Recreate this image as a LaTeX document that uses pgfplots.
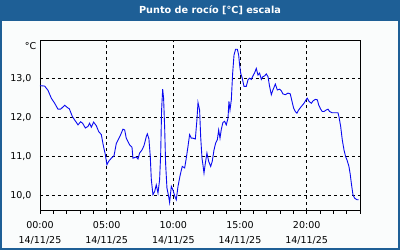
\documentclass[border=0pt]{standalone}
\usepackage{fontspec}
\setmainfont{DejaVu Sans}
\usepackage{pgfplots}
\pgfplotsset{compat=1.18}
\definecolor{barblue}{RGB}{30,95,150}
\definecolor{bgc}{RGB}{250,252,252}
\definecolor{lineblue}{RGB}{10,10,240}
\begin{document}
\begin{tikzpicture}[x=1bp,y=1bp]
\useasboundingbox (-40,-39.5) rectangle (360,210.5);
\fill[bgc] (-40,-39.5) rectangle (360,210.5);
\begin{axis}[
  at={(0,0)}, anchor=south west,
  scale only axis, width=320bp, height=170.5bp,
  xmin=0, xmax=24, ymin=9.625, ymax=13.975,
  xtick={0,5,10,15,20},
  minor xtick={1,2,3,4,6,7,8,9,11,12,13,14,16,17,18,19,21,22,23,24},
  xticklabels={{00:00\\14/11/25},{05:00\\14/11/25},{10:00\\14/11/25},{15:00\\14/11/25},{20:00\\14/11/25}},
  ytick={10,11,12,13},
  grid=major,
  major grid style={black, dash pattern=on 3bp off 3bp, line width=0.8bp},
  axis line style={black, line width=0.8bp},
  tick align=outside,
  xtick pos=left, ytick pos=left,
  xtick style={black, line width=0.8bp},
  ytick style={draw=none},
  major tick length=3bp, minor tick length=3bp,
  xticklabel style={font=\fontsize{9.5bp}{15bp}\selectfont, align=center, text=black, yshift=-4bp},
  yticklabel style={font=\fontsize{9.5bp}{11bp}\selectfont, text=black, xshift=-2bp,
    /pgf/number format/.cd, fixed, fixed zerofill, precision=1, use comma, assume math mode=true},
  clip=true,
]
\addplot[lineblue, line width=0.9bp] coordinates {
(0.0,12.81) (0.35,12.80) (0.6,12.69) (0.85,12.49) (1.1,12.36) (1.35,12.21) (1.55,12.21)
(1.85,12.31) (2.1,12.24) (2.2,12.22) (2.43,12.02) (2.65,11.91) (2.85,11.81) (3.05,11.89)
(3.2,11.85) (3.4,11.73) (3.6,11.77) (3.72,11.85) (3.85,11.75) (4.02,11.88) (4.22,11.79)
(4.4,11.64) (4.6,11.56) (4.75,11.28) (4.9,11.05) (5.02,10.79) (5.15,10.88) (5.35,10.96)
(5.55,11.02) (5.72,11.33) (5.98,11.51) (6.05,11.56) (6.22,11.70) (6.35,11.68) (6.47,11.47)
(6.72,11.30) (6.9,11.24) (6.97,10.96) (7.22,10.99) (7.35,10.94) (7.47,11.09) (7.65,11.17)
(7.8,11.28) (7.97,11.51) (8.05,11.58) (8.17,11.45) (8.27,11.00) (8.35,10.41) (8.47,10.03)
(8.6,10.11) (8.72,10.28) (8.85,10.07) (8.97,10.41) (9.05,11.05) (9.12,12.19) (9.2,12.72)
(9.27,12.49) (9.35,11.73) (9.42,10.83) (9.52,10.20) (9.65,9.98) (9.72,9.83) (9.85,10.24)
(9.97,10.15) (10.1,10.00) (10.22,9.90) (10.35,10.24) (10.52,10.54) (10.67,10.75) (10.85,10.71)
(10.97,10.96) (11.1,11.26) (11.22,11.56) (11.35,11.47) (11.47,11.47) (11.65,11.45) (11.77,11.94)
(11.85,12.38) (11.97,12.19) (12.05,11.51) (12.15,10.96) (12.22,10.79) (12.3,10.58) (12.4,10.83)
(12.52,11.09) (12.65,10.88) (12.8,10.75) (12.92,10.88) (13.05,11.17) (13.17,11.34) (13.3,11.43)
(13.4,11.68) (13.5,11.47) (13.6,11.70) (13.72,11.87) (13.85,11.90) (13.97,11.81) (14.1,11.98)
(14.17,12.41) (14.25,12.19) (14.35,12.45) (14.45,13.13) (14.55,13.59) (14.67,13.74) (14.8,13.74)
(14.9,13.59) (14.97,13.34) (15.05,13.13) (15.17,13.00) (15.3,12.79) (15.47,12.79) (15.6,12.96)
(15.72,13.00) (15.85,12.97) (15.97,13.06) (16.1,13.14) (16.22,13.25) (16.35,13.08) (16.47,13.13)
(16.6,12.97) (16.72,13.04) (16.85,13.06) (16.97,13.11) (17.1,13.04) (17.22,12.79) (17.35,12.58)
(17.47,12.70) (17.65,12.85) (17.8,12.70) (17.97,12.72) (18.1,12.68) (18.22,12.60) (18.4,12.58)
(18.6,12.62) (18.77,12.60) (18.9,12.41) (19.02,12.24) (19.15,12.15) (19.27,12.11) (19.4,12.19)
(19.6,12.28) (19.8,12.36) (19.97,12.46) (20.05,12.49) (20.17,12.41) (20.35,12.36) (20.47,12.42)
(20.65,12.46) (20.8,12.45) (20.9,12.32) (21.05,12.21) (21.17,12.15) (21.3,12.15) (21.47,12.19)
(21.6,12.21) (21.72,12.15) (21.9,12.12) (22.1,12.12) (22.35,12.12) (22.42,12.02) (22.55,11.77)
(22.67,11.43) (22.8,11.17) (22.92,11.00) (23.02,10.92) (23.1,10.83) (23.17,10.75) (23.27,10.54)
(23.35,10.32) (23.47,10.03) (23.6,9.94) (23.77,9.90) (23.9,9.90)
};
\end{axis}
\node[font=\fontsize{9.5bp}{11bp}\selectfont, text=black] at (-9.5,164.5) {°C};
\fill[barblue] (-40,190) rectangle (360,210.5);
\draw[barblue, line width=2bp] (-39,210.5) -- (-39,-38.5) -- (359,-38.5) -- (359,210.5);
\node[font=\fontsize{9.7bp}{11bp}\selectfont\bfseries, text=white] at (170,200) {Punto de rocío [°C] escala};
\end{tikzpicture}
\end{document}
